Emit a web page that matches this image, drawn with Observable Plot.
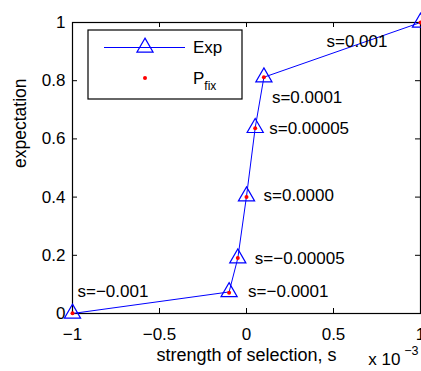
<!DOCTYPE html>
<html><head><meta charset="utf-8">
<script src="https://cdn.jsdelivr.net/npm/d3@7"></script>
<script src="https://cdn.jsdelivr.net/npm/@observablehq/plot@0.6"></script>
<style>body{margin:0;background:#fff}</style>
</head><body><div id="chart"></div>
<script>
// ---- data ----
const sValues = [-0.001, -0.0001, -0.00005, 0, 0.00005, 0.0001, 0.001];
const expValues = [0.0, 0.074, 0.19, 0.403, 0.638, 0.812, 1.0];
const pfixValues = [0.001, 0.071, 0.191, 0.400, 0.637, 0.812, 1.0];
const pointLabels = ["s=−0.001", "s=−0.0001", "s=−0.00005", "s=0.0000", "s=0.00005", "s=0.0001", "s=0.001"];
const xTicks = [-1, -0.5, 0, 0.5, 1];
const xTickLabels = ["−1", "−0.5", "0", "0.5", "1"];
const yTicks = [0, 0.2, 0.4, 0.6, 0.8, 1];
const yTickLabels = ["0", "0.2", "0.4", "0.6", "0.8", "1"];
const legendNames = ["Exp", "P", "fix"];
const xLabel = "strength of selection, s";
const yLabel = "expectation";
const xExponent = ["x 10", "−3"];

// ---- layout ----
const W = 421, H = 371, mL = 72, mR = 1, mT = 22, mB = 58;
const fw = W - mL - mR, fh = H - mT - mB;
const font = "'Liberation Sans', Arial, Helvetica, sans-serif";
const tickLen = 5;
// label offsets (dx, dy, anchor) relative to each point
const labelLayout = [[5, -22, "start"], [19, 0, "start"], [17, 0, "start"], [17, -1, "start"], [14, 1, "start"], [8, 20, "start"], [-33, 19, "end"]];

const rows = sValues.map((s, i) => ({x: s * 1e3, exp: expValues[i], pfix: pfixValues[i], label: pointLabels[i]}));

const labelMarks = rows.map((r, i) => Plot.text([r], {
  x: "x", y: "exp", text: "label", dx: labelLayout[i][0], dy: labelLayout[i][1],
  textAnchor: labelLayout[i][2], fontSize: 17, fill: "black"
}));

const chart = Plot.plot({
  width: W, height: H, marginLeft: mL, marginRight: mR, marginTop: mT, marginBottom: mB,
  style: {fontFamily: font, fontSize: "17px", background: "white", color: "black"},
  x: {domain: [-1, 1]},
  y: {domain: [0, 1]},
  marks: [
    Plot.frame({stroke: "black", strokeWidth: 1.2}),
    Plot.tickX(xTicks, {x: d => d, insetTop: fh - tickLen, stroke: "black"}),
    Plot.tickX(xTicks, {x: d => d, insetBottom: fh - tickLen, stroke: "black"}),
    Plot.tickY(yTicks, {y: d => d, insetRight: fw - tickLen, stroke: "black"}),
    Plot.tickY(yTicks, {y: d => d, insetLeft: fw - tickLen, stroke: "black"}),
    Plot.axisX(xTicks, {tickSize: 0, tickPadding: 14, tickFormat: d => xTickLabels[xTicks.indexOf(d)], label: null, fontSize: 17}),
    Plot.axisY(yTicks, {tickSize: 0, tickPadding: 7, tickFormat: d => yTickLabels[yTicks.indexOf(d)], label: null, fontSize: 17}),
    Plot.text([xLabel], {frameAnchor: "bottom", dy: 47, fontSize: 18}),
    Plot.text([yLabel], {frameAnchor: "left", rotate: -90, dx: -52, fontSize: 17.5}),
    Plot.text([xExponent[0]], {frameAnchor: "bottom-right", textAnchor: "end", dx: -20, dy: 51, fontSize: 17}),
    Plot.text([xExponent[1]], {frameAnchor: "bottom-right", textAnchor: "end", dx: -2, dy: 41, fontSize: 12.5}),
    Plot.line(rows, {x: "x", y: "exp", stroke: "blue", strokeWidth: 1}),
    Plot.dot(rows, {x: "x", y: "exp", symbol: "triangle", r: 6, stroke: "blue", fill: "none", strokeWidth: 1.2}),
    Plot.dot(rows, {x: "x", y: "pfix", r: 2, fill: "red", stroke: "none"}),
    ...labelMarks
  ]
});
document.getElementById("chart").appendChild(chart);

// ---- legend ----
const svg = d3.select(chart);
const lg = svg.append("g").attr("font-family", font).attr("text-anchor", "start");
lg.append("rect").attr("x", 88).attr("y", 30).attr("width", 154).attr("height", 69)
  .style("fill", "white").style("stroke", "black").style("stroke-width", 1.2);
lg.append("path").attr("d", "M104,47.5H185").style("stroke", "blue").style("stroke-width", 1).style("fill", "none");
lg.append("path").attr("d", d3.symbol(d3.symbolTriangle, Math.PI * 36)())
  .attr("transform", "translate(145,47.5)").style("fill", "none").style("stroke", "blue").style("stroke-width", 1.2);
lg.append("circle").attr("cx", 145).attr("cy", 78).attr("r", 2).style("fill", "red");
lg.append("text").attr("x", 193).attr("y", 47.5).attr("dy", "0.35em").attr("font-size", 17).style("fill", "black").text(legendNames[0]);
const pt = lg.append("text").attr("x", 193).attr("y", 78).attr("dy", "0.35em").attr("font-size", 17).style("fill", "black");
pt.append("tspan").text(legendNames[1]);
pt.append("tspan").attr("font-size", 12).attr("dy", 6).text(legendNames[2]);
</script>
</body></html>
